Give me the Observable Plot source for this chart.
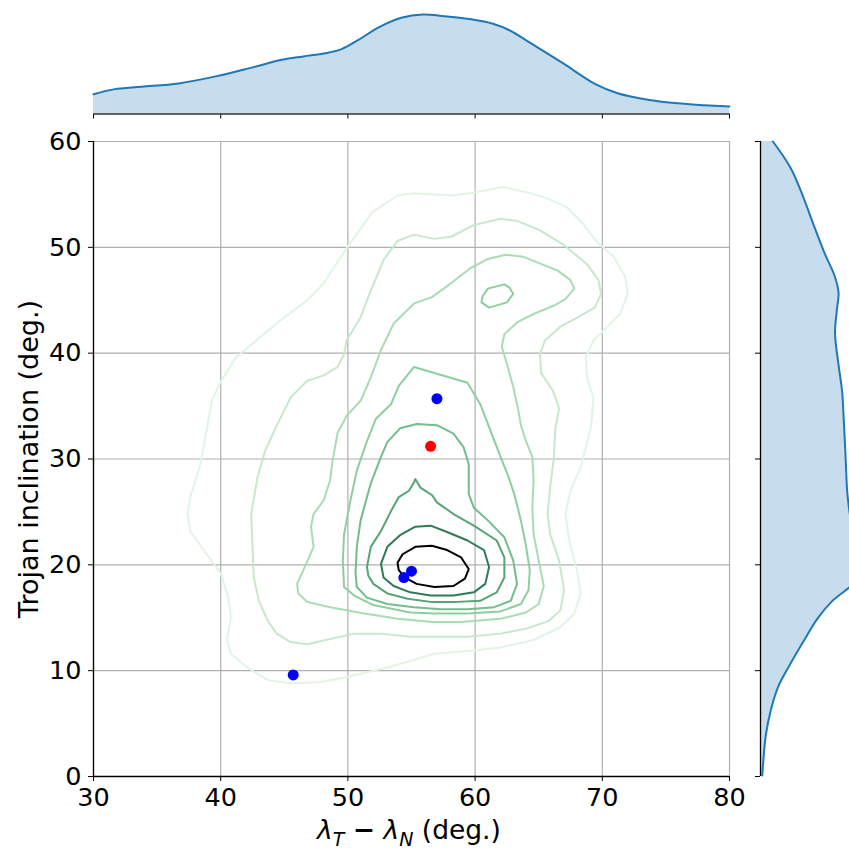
<!DOCTYPE html>
<html><head><meta charset="utf-8">
<script src="https://cdn.jsdelivr.net/npm/d3@7"></script>
<script src="https://cdn.jsdelivr.net/npm/@observablehq/plot@0.6"></script>
<style>
body{margin:0;background:#fff;}
#wrap{position:relative;width:849px;height:850px;overflow:hidden;font-family:"DejaVu Sans",sans-serif;background:#fff;}
#wrap > svg{position:absolute;left:0;top:0;}
.lab{position:absolute;font-size:27px;color:#000;white-space:nowrap;font-family:"DejaVu Sans",sans-serif;}
</style></head><body><div id="wrap"></div><script>
// ---- data ----
const xTicks = [30, 40, 50, 60, 70, 80];
const yTicks = [0, 10, 20, 30, 40, 50, 60];

// KDE contour lines, outermost (c1) to innermost (c8), [lambda diff, inclination]
const c1 = [[49.9,49.9],[51.9,53.3],[53.9,54.9],[55.2,55.1],[58.1,54.9],[59.6,55.1],[62.2,55.7],[64.4,55.1],[65.7,54.6],[67.2,53.8],[68.5,52.2],[69.6,50.5],[70.9,49.1],[71.8,47.2],[72.0,45.6],[71.4,43.7],[70.4,42.5],[69.3,41.2],[68.7,39.6],[68.8,37.7],[69.3,35.8],[69.1,33.0],[68.3,29.2],[67.5,27.0],[67.1,24.8],[67.4,22.3],[68.0,19.5],[68.3,17.3],[67.8,15.4],[66.7,14.1],[64.6,12.9],[62.0,12.2],[59.9,11.9],[56.8,11.6],[53.1,10.3],[49.9,9.4],[47.8,8.9],[45.5,8.8],[43.7,9.1],[42.1,10.3],[40.8,11.6],[40.5,12.9],[40.8,15.1],[40.6,16.9],[40.0,19.2],[38.9,21.0],[37.6,23.2],[37.4,24.8],[37.6,26.4],[38.4,29.5],[38.9,32.7],[39.3,35.5],[40.0,37.3],[41.2,39.6],[42.3,40.7],[44.7,43.1],[46.8,45.0],[48.1,46.6],[48.9,48.1]];
const c2 = [[44.3,32.9],[45.5,35.8],[46.8,37.4],[48.1,37.9],[49.2,38.7],[49.7,39.9],[49.9,41.2],[51.0,43.4],[51.8,45.9],[52.8,48.8],[53.9,50.6],[55.2,51.2],[56.8,50.8],[58.1,51.0],[59.9,52.1],[62.0,52.7],[63.3,52.5],[65.1,51.6],[67.0,50.2],[68.8,48.4],[69.7,46.9],[69.9,45.6],[69.4,44.3],[68.1,43.4],[66.7,42.5],[65.5,41.2],[65.1,39.9],[65.2,38.1],[66.1,36.5],[66.6,34.8],[66.3,32.7],[66.2,30.2],[65.9,27.3],[65.7,24.8],[65.9,22.9],[66.6,20.4],[67.0,17.6],[66.7,15.7],[65.8,14.7],[64.1,14.0],[62.0,13.5],[59.4,13.2],[56.8,13.2],[54.9,13.2],[52.6,13.5],[50.5,13.5],[48.6,13.0],[46.8,12.5],[45.5,12.7],[44.4,13.5],[43.7,14.7],[43.0,16.6],[42.6,18.8],[42.5,21.7],[42.4,24.8],[42.9,28.3],[43.5,30.8]];
const c3 = [[49.7,33.6],[49.2,32.5],[48.8,29.9],[48.6,28.0],[48.1,26.1],[47.3,24.8],[47.1,23.6],[47.3,21.7],[46.5,19.5],[46.0,18.2],[46.1,17.3],[46.8,16.5],[48.6,16.0],[51.3,15.4],[53.9,14.9],[56.7,14.6],[58.9,14.6],[62.0,14.9],[64.0,15.5],[65.0,16.3],[65.4,18.0],[65.0,20.4],[64.6,22.9],[64.5,25.4],[64.6,28.0],[64.5,30.2],[64.0,31.7],[63.6,33.2],[63.4,34.6],[63.0,36.8],[62.5,39.0],[62.1,40.6],[62.3,41.8],[63.3,42.9],[64.6,43.7],[66.2,44.5],[67.1,45.1],[67.8,46.1],[67.5,46.9],[66.5,47.8],[63.8,49.1],[62.4,49.3],[61.0,48.9],[59.6,48.0],[58.1,46.6],[56.6,45.3],[55.2,44.7],[53.6,42.8],[52.6,40.3],[51.8,37.7],[51.0,35.5],[49.9,34.1]];
const c4 = [[55.2,38.7],[59.4,37.2],[60.4,35.2],[61.2,32.7],[62.0,30.2],[62.6,28.4],[63.1,26.6],[63.6,24.2],[64.0,21.8],[64.3,19.5],[64.2,17.6],[63.6,16.3],[62.0,15.6],[59.4,15.4],[56.8,15.4],[54.9,15.5],[52.0,16.2],[50.5,17.1],[49.7,17.9],[49.6,20.4],[49.7,22.9],[50.2,26.1],[50.7,28.9],[51.5,31.7],[52.2,33.8],[53.4,35.2],[54.0,36.9]];
const c4island = [[60.6,45.4],[61.0,46.1],[62.3,46.5],[62.7,46.2],[63.0,45.6],[62.5,44.8],[61.1,44.3],[60.5,44.8]];
const c5 = [[50.6,19.2],[50.7,21.7],[51.0,24.2],[51.8,27.7],[52.6,30.2],[53.1,31.6],[54.1,32.9],[55.4,33.3],[57.0,33.2],[58.3,32.4],[59.1,31.1],[59.5,29.5],[59.5,26.7],[59.9,25.4],[61.0,24.2],[62.3,22.6],[63.0,20.4],[63.3,18.2],[62.8,16.6],[61.5,16.0],[59.4,15.8],[57.3,15.8],[55.2,16.0],[53.1,16.3],[51.5,16.9],[50.7,17.9]];
const c6 = [[51.5,19.8],[51.8,21.7],[52.6,23.2],[53.4,25.1],[54.0,26.4],[54.8,27.0],[55.2,27.8],[55.3,28.1],[55.7,27.3],[56.6,26.6],[57.0,25.9],[58.3,24.8],[59.9,23.7],[61.7,22.3],[62.3,20.7],[62.3,18.8],[61.7,17.4],[60.4,16.6],[58.6,16.5],[56.5,16.5],[54.7,16.8],[53.1,17.3],[52.0,18.2],[51.6,19.0]];
const c7 = [[52.6,20.1],[53.1,21.7],[54.1,22.8],[55.3,23.6],[56.5,23.7],[57.8,23.1],[59.4,22.3],[60.7,21.4],[61.1,19.8],[60.8,18.2],[59.9,17.4],[58.3,17.1],[56.5,17.1],[54.9,17.4],[53.6,18.0],[52.8,18.8]];
const c8 = [[53.9,20.2],[54.3,21.0],[55.3,21.7],[56.6,21.8],[57.8,21.4],[58.9,20.7],[59.5,19.6],[59.2,18.7],[58.3,18.0],[56.8,17.9],[55.4,18.2],[54.5,18.8],[54.0,19.5]];

// highlighted objects
const ptX = [57.0, 56.5, 55.0, 54.4, 45.7];
const ptY = [35.7, 31.2, 19.4, 18.8, 9.6];
const ptKind = ["blue", "red", "blue", "blue", "blue"];

// marginal KDE, top (over lambda difference)
const topX = [30, 31.6, 33.8, 36.7, 39.7, 42.3, 44.8, 46.5, 48.2, 49.5, 50.8, 52.5, 54.2, 55.9, 57.6, 59.7, 61.4, 62.7, 64.4, 66.9, 69.5, 71.2, 73.7, 75.9, 78.0, 80];
const topD = [0.0076, 0.0095, 0.0105, 0.0118, 0.0146, 0.0177, 0.0209, 0.0222, 0.0234, 0.0250, 0.0285, 0.0336, 0.0371, 0.0384, 0.0377, 0.0365, 0.0348, 0.0323, 0.0272, 0.0196, 0.0114, 0.0080, 0.0054, 0.0041, 0.0034, 0.0029];
// marginal KDE, right (over inclination)
const rightY = [0.1, 3.9, 6.4, 8.5, 10.4, 12.7, 14.9, 16.5, 17.6, 18.4, 20.6, 22.7, 24.2, 26.7, 30.1, 33.5, 36.4, 38.9, 41.9, 44.0, 45.7, 47.2, 49.5, 52.1, 54.8, 57.5, 60];
const rightD = [0.0005, 0.0015, 0.0030, 0.0050, 0.0080, 0.0120, 0.0160, 0.0200, 0.0240, 0.0267, 0.0282, 0.0267, 0.0255, 0.0245, 0.0240, 0.0235, 0.0230, 0.0220, 0.0210, 0.0215, 0.0220, 0.0210, 0.0180, 0.0150, 0.0120, 0.0085, 0.0035];

(function () {
// ---- styles ----
const rings = [
  {pts: c1, color: "#e2f4e3"},
  {pts: c2, color: "#c6e8cd"},
  {pts: c3, color: "#a9dbb5"},
  {pts: c4, color: "#8dcea1"},
  {pts: c4island, color: "#8dcea1"},
  {pts: c5, color: "#71bd8b"},
  {pts: c6, color: "#55a475"},
  {pts: c7, color: "#2f7a54"},
  {pts: c8, color: "#000000"}
];
const dotColor = {blue: "#0000ff", red: "#ff0000"};
const fillBlue = "#c7dded", lineBlue = "#1f77b4";
const svgStyle = {fontSize: "25.5px", fontFamily: "DejaVu Sans", color: "#000", background: "transparent", maxWidth: "none", overflow: "visible"};

const points = ptX.map((x, i) => ({x, y: ptY[i], kind: ptKind[i]}));
const topRows = topX.map((x, i) => ({x, d: topD[i]}));
const rightRows = rightY.map((y, i) => ({y, d: rightD[i]}));

const wrap = document.getElementById("wrap");

// ---- main joint panel ----
const mainSvg = Plot.plot({
  width: 849, height: 850,
  marginLeft: 93, marginRight: 120, marginTop: 141, marginBottom: 74,
  style: svgStyle,
  x: {domain: [30, 80], ticks: xTicks, tickSize: 5, tickPadding: 6, label: null},
  y: {domain: [0, 60], ticks: yTicks, tickSize: 5, tickPadding: 7, label: null},
  marks: [
    Plot.ruleX(xTicks, {stroke: "#b0b0b0", strokeWidth: 1.2}),
    Plot.ruleY(yTicks, {stroke: "#b0b0b0", strokeWidth: 1.2}),
    ...rings.map(r => Plot.line(r.pts, {x: d => d[0], y: d => d[1], stroke: r.color, strokeWidth: 2, curve: "linear-closed"})),
    Plot.ruleX([30], {stroke: "#000", strokeWidth: 1.3}),
    Plot.ruleY([0], {stroke: "#000", strokeWidth: 1.3}),
    ...Object.keys(dotColor).map(k => Plot.dot(points.filter(p => p.kind === k), {x: "x", y: "y", r: 5.5, fill: dotColor[k], stroke: "none"}))
  ]
});
wrap.appendChild(mainSvg);

// ---- top marginal ----
const topSvg = Plot.plot({
  width: 849, height: 130,
  marginLeft: 93, marginRight: 120, marginTop: 9, marginBottom: 16.5,
  style: svgStyle,
  x: {domain: [30, 80], ticks: xTicks, tickSize: 5, tickFormat: () => "", label: null},
  y: {domain: [0, 0.0403], axis: null},
  marks: [
    Plot.areaY(topRows, {x: "x", y: "d", fill: fillBlue, curve: "catmull-rom"}),
    Plot.lineY(topRows, {x: "x", y: "d", stroke: lineBlue, strokeWidth: 2, curve: "catmull-rom"}),
    Plot.ruleY([0], {stroke: "#333", strokeWidth: 1.3})
  ]
});
wrap.appendChild(topSvg);

// ---- right marginal ----
const rightSvg = Plot.plot({
  width: 865, height: 850,
  marginLeft: 760, marginRight: 0, marginTop: 141, marginBottom: 74,
  style: svgStyle,
  x: {domain: [0, 0.0296], axis: null},
  y: {domain: [0, 60], ticks: yTicks, tickSize: 5, tickFormat: () => "", label: null},
  marks: [
    Plot.areaX(rightRows, {y: "y", x: "d", fill: fillBlue, curve: "catmull-rom"}),
    Plot.lineX(rightRows, {y: "y", x: "d", stroke: lineBlue, strokeWidth: 2, curve: "catmull-rom"}),
    Plot.ruleX([0], {stroke: "#000", strokeWidth: 1.3})
  ]
});
wrap.appendChild(rightSvg);

// ---- axis titles ----
const xl = document.createElement("div");
xl.className = "lab";
xl.style.fontSize = "26.5px";
xl.style.left = "409px"; xl.style.top = "832px"; xl.style.transform = "translate(-50%,-50%)";
xl.innerHTML = '<i>λ</i><sub style="font-size:19px"><i>T</i></sub> <b style="font-weight:bold">−</b> <i>λ</i><sub style="font-size:19px"><i>N</i></sub> (deg.)';
wrap.appendChild(xl);

const yl = document.createElement("div");
yl.className = "lab";
yl.style.left = "28px"; yl.style.top = "459px"; yl.style.transform = "translate(-50%,-50%) rotate(-90deg)";
yl.textContent = "Trojan inclination (deg.)";
wrap.appendChild(yl);
})();
</script></body></html>
